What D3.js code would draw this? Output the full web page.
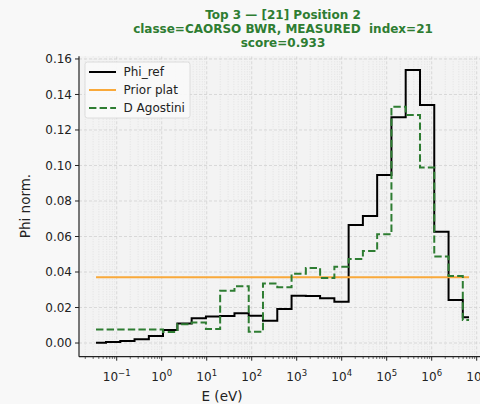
<!DOCTYPE html>
<html><head><meta charset="utf-8">
<script src="https://cdn.jsdelivr.net/npm/d3@7"></script>
<style>
body{margin:0;background:#f8f8f8;overflow:hidden}
svg{display:block;font-family:"DejaVu Sans",sans-serif}
</style>
</head><body><svg id="c" width="480" height="404"></svg>
<script>
// Bin edges (eV)
const edges = [0.0347, 0.0579, 0.120, 0.249, 0.518, 1.07, 2.23, 4.63, 9.62, 19.9, 41.4, 85.9, 178, 370, 769,
  1596, 3311, 6871, 14260, 29580, 61380, 127400, 264300, 549500, 1.14e6, 2.37e6, 4.91e6, 6.76e6];
// Series values per bin
const phiRef = [0.0002, 0.0006, 0.0012, 0.0021, 0.0040, 0.0073, 0.0110, 0.0140, 0.0150, 0.0152, 0.0168, 0.0154, 0.0126,
  0.0192, 0.0266, 0.0265, 0.0252, 0.0233, 0.0665, 0.0715, 0.0946, 0.1272, 0.1538, 0.1341, 0.0627, 0.0242, 0.0145];
const dAgostini = [0.0076, 0.0076, 0.0076, 0.0076, 0.0076, 0.0062, 0.0106, 0.0116, 0.0079, 0.0295, 0.0320, 0.0063, 0.0336,
  0.0314, 0.0390, 0.0422, 0.0366, 0.0430, 0.0473, 0.0518, 0.0612, 0.1331, 0.1285, 0.0988, 0.0487, 0.0377, 0.0130];
const priorPlat = 0.037;
const yTicks = [0, 0.02, 0.04, 0.06, 0.08, 0.10, 0.12, 0.14, 0.16];
const xTickExps = [-1, 0, 1, 2, 3, 4, 5, 6, 7];
const titleLines = ["Top 3 \u2014 [21] Position 2", "classe=CAORSO BWR, MEASURED\u00a0\u00a0index=21", "score=0.933"];
const legendLabels = ["Phi_ref", "Prior plat", "D Agostini"];

const svg = d3.select("#c");
const L = 79, R = 487, T = 56.3, B = 356.7;
const x = d3.scaleLog().domain([Math.pow(10, -1.838), Math.pow(10, 7.229)]).range([L, R]);
const y = d3.scaleLinear().domain([-0.0077, 0.1615]).range([B, T]);

// axes background
svg.append("rect").attr("x", L).attr("y", T).attr("width", R - L).attr("height", B - T).attr("fill", "#f3f3f3");

const clip = svg.append("clipPath").attr("id", "pc").append("rect")
  .attr("x", L).attr("y", T).attr("width", R - L).attr("height", B - T);
const g = svg.append("g").attr("clip-path", "url(#pc)");

// grid
const minor = [];
for (let e = -2; e <= 7; e++) for (let k = 2; k <= 9; k++) {
  const v = k * Math.pow(10, e);
  if (v > x.domain()[0] && v < x.domain()[1]) minor.push(v);
}
g.selectAll(".mg").data(minor).join("line")
  .attr("x1", d => x(d)).attr("x2", d => x(d)).attr("y1", T).attr("y2", B)
  .attr("stroke", "#d6d6d6").attr("stroke-width", 0.6).attr("stroke-dasharray", "1,1.5");
g.selectAll(".Mg").data(xTickExps).join("line")
  .attr("x1", d => x(Math.pow(10, d))).attr("x2", d => x(Math.pow(10, d))).attr("y1", T).attr("y2", B)
  .attr("stroke", "#d0d0d0").attr("stroke-width", 0.8).attr("stroke-dasharray", "3,2");
g.selectAll(".hg").data(yTicks).join("line")
  .attr("x1", L).attr("x2", R).attr("y1", d => y(d)).attr("y2", d => y(d))
  .attr("stroke", "#d0d0d0").attr("stroke-width", 0.8).attr("stroke-dasharray", "3,2");

// step lines
function stepPts(vals) {
  const pts = vals.map((v, i) => [edges[i], v]);
  pts.push([edges[edges.length - 1], vals[vals.length - 1]]);
  return pts;
}
const line = d3.line().x(d => x(d[0])).y(d => y(d[1])).curve(d3.curveStepAfter);
g.append("path").attr("d", line(stepPts(phiRef))).attr("fill", "none").attr("stroke", "#000").attr("stroke-width", 2);
g.append("path").attr("d", line([[edges[0], priorPlat], [edges[edges.length - 1], priorPlat]]))
  .attr("fill", "none").attr("stroke", "#f9a93a").attr("stroke-width", 2);
g.append("path").attr("d", line(stepPts(dAgostini))).attr("fill", "none").attr("stroke", "#2e7d32")
  .attr("stroke-width", 2).attr("stroke-dasharray", "7.4,3.2");

// spines
svg.append("line").attr("x1", L).attr("x2", L).attr("y1", T).attr("y2", B).attr("stroke", "#222").attr("stroke-width", 1.2);
svg.append("line").attr("x1", L).attr("x2", R).attr("y1", B).attr("y2", B).attr("stroke", "#222").attr("stroke-width", 1.2);

// y ticks
const yt = svg.append("g");
yTicks.forEach(t => {
  yt.append("line").attr("x1", L - 4).attr("x2", L).attr("y1", y(t)).attr("y2", y(t)).attr("stroke", "#222").attr("stroke-width", 1);
  yt.append("text").attr("x", L - 7).attr("y", y(t)).attr("dy", "0.36em").attr("text-anchor", "end")
    .attr("font-size", 12).attr("fill", "#222").text(t.toFixed(2));
});
// x ticks
const xt = svg.append("g");
minor.forEach(v => {
  xt.append("line").attr("x1", x(v)).attr("x2", x(v)).attr("y1", B).attr("y2", B + 2.2).attr("stroke", "#222").attr("stroke-width", 0.7);
});
xTickExps.forEach(e => {
  const px = x(Math.pow(10, e));
  xt.append("line").attr("x1", px).attr("x2", px).attr("y1", B).attr("y2", B + 4).attr("stroke", "#222").attr("stroke-width", 1);
  const tx = xt.append("text").attr("x", px).attr("y", B + 24).attr("text-anchor", "middle").attr("fill", "#222").attr("font-size", 12);
  tx.append("tspan").text("10");
  tx.append("tspan").attr("font-size", 8.5).attr("dy", -5).text(e < 0 ? "\u2212" + Math.abs(e) : String(e));
});

// labels
svg.append("text").attr("x", 222).attr("y", 401).attr("text-anchor", "middle").attr("font-size", 13.5).attr("fill", "#222").text("E (eV)");
svg.append("text").attr("transform", "translate(30,206) rotate(-90)").attr("text-anchor", "middle")
  .attr("font-size", 13.5).attr("fill", "#222").text("Phi norm.");

// title
titleLines.forEach((t, i) => {
  svg.append("text").attr("x", 283).attr("y", 19 + i * 13.8).attr("text-anchor", "middle")
    .attr("font-size", 12).attr("font-weight", "bold").attr("fill", "#2e7d32").text(t);
});

// legend
const lg = svg.append("g");
lg.append("rect").attr("x", 85).attr("y", 62).attr("width", 105).attr("height", 56).attr("rx", 2.5)
  .attr("fill", "#fafafa").attr("fill-opacity", 0.9).attr("stroke", "#d5d5d5").attr("stroke-width", 0.8);
const styles = [{c: "#000", d: null}, {c: "#f9a93a", d: null}, {c: "#2e7d32", d: "7.4,3.2"}];
legendLabels.forEach((lab, i) => {
  const yy = 72 + i * 18;
  const ln = lg.append("line").attr("x1", 89).attr("x2", 116).attr("y1", yy).attr("y2", yy)
    .attr("stroke", styles[i].c).attr("stroke-width", 2);
  if (styles[i].d) ln.attr("stroke-dasharray", styles[i].d);
  lg.append("text").attr("x", 123.5).attr("y", yy).attr("dy", "0.36em").attr("font-size", 12).attr("fill", "#222").text(lab);
});
</script>
</body></html>
